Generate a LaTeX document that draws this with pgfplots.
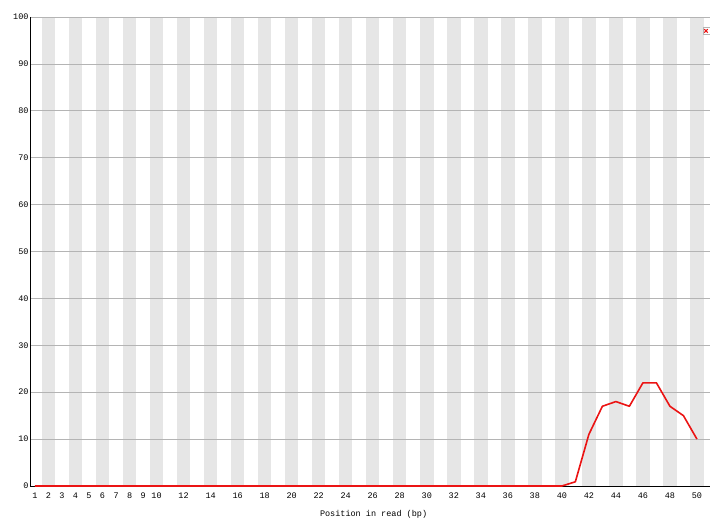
\documentclass[border=0pt]{standalone}
\usepackage{fontspec}
\setmainfont{Liberation Mono}
\usepackage{pgfplots}
\pgfplotsset{compat=1.18}
\definecolor{band}{RGB}{230,230,230}
\definecolor{gridc}{RGB}{180,180,180}
\definecolor{lred}{RGB}{235,20,20}
\begin{document}
\begin{tikzpicture}[x=1pt,y=1pt]
\begin{axis}[
  set layers,
  clip=false,
  at={(30pt,33pt)}, anchor=south west,
  scale only axis, width=687.2pt, height=469pt,
  xmin=0.63, xmax=51.5, ymin=0, ymax=100,
  axis x line*=bottom, axis y line*=left,
  axis line style={-, black, line width=0.8pt},
  xtick={1,2,3,4,5,6,7,8,9,10,12,14,16,18,20,22,24,26,28,30,32,34,36,38,40,42,44,46,48,50},
  ytick={0,10,...,100},
  ymajorgrids, grid style={gridc, line width=0.6pt},
  major tick length=0pt,
  /pgf/number format/assume math mode=true,
  tick label style={font=\fontsize{8.5}{10}\selectfont},
  xticklabel style={yshift=-3.5pt},
  yticklabel style={xshift=2pt},
  xlabel={Position in read (bp)},
  xlabel style={font=\fontsize{8.5}{10}\selectfont, yshift=-5pt},
  legend style={at={(0.9794,0.9787)}, anchor=north west, draw=gridc, fill=white, inner sep=1pt},
  legend image code/.code={\draw[lred, line width=1pt] plot[mark=x, mark size=2.5pt] coordinates {(0.12cm,0cm)};},
]
\begin{pgfonlayer}{axis background}
\pgfplotsinvokeforeach{2,4,...,50}{\fill[band] (axis cs:#1-0.5,0) rectangle (axis cs:#1+0.5,100);}
\end{pgfonlayer}
\addplot[lred, line width=1.6pt, line join=round] coordinates {
(1,0)(2,0)(3,0)(4,0)(5,0)(6,0)(7,0)(8,0)(9,0)(10,0)
(11,0)(12,0)(13,0)(14,0)(15,0)(16,0)(17,0)(18,0)(19,0)(20,0)
(21,0)(22,0)(23,0)(24,0)(25,0)(26,0)(27,0)(28,0)(29,0)(30,0)
(31,0)(32,0)(33,0)(34,0)(35,0)(36,0)(37,0)(38,0)(39,0)(40,0)
(41,0.9)(42,11)(43,17)(44,18)(45,17)(46,22)(47,22)(48,17)(49,15)(50,10)
};
\addlegendentry{}
\end{axis}
\pgfresetboundingbox
\path (0,0) rectangle (710,519);
\end{tikzpicture}
\end{document}
